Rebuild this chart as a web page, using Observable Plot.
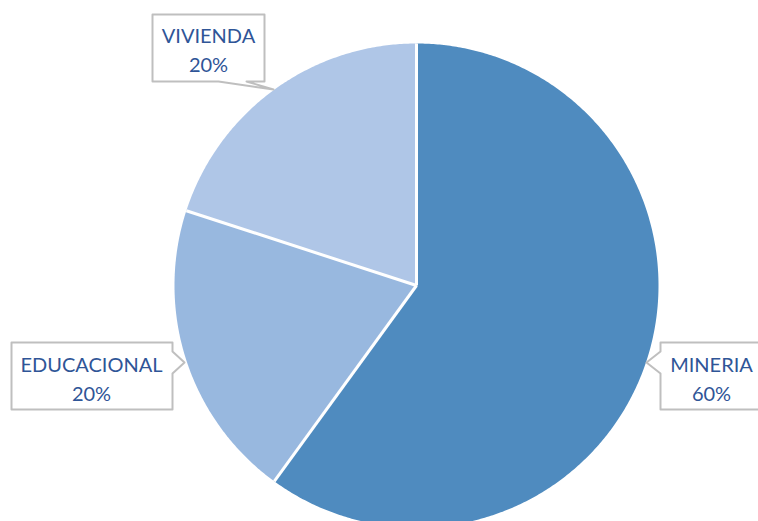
<!DOCTYPE html>
<html>
<head>
<meta charset="utf-8">
<script src="https://cdn.jsdelivr.net/npm/d3@7"></script>
<script src="https://cdn.jsdelivr.net/npm/@observablehq/plot@0.6"></script>
<style>
  html, body { margin: 0; padding: 0; background: #ffffff; }
  #chart svg { display: block; }
</style>
</head>
<body>
<div id="chart"></div>
<script>
// ---- data ----
const categories = ["MINERIA", "EDUCACIONAL", "VIVIENDA"];
const shares = [60, 20, 20];
const percentLabels = ["60%", "20%", "20%"];
const colors = ["#4f8bbf", "#98b8df", "#afc6e7"];

// ---- layout (pixels) ----
const W = 758, H = 521;
const cx = 416, cy = 285, R = 242;
const callouts = {
  "VIVIENDA":    {left: 152, top: 14,  right: 264, bottom: 81,  edge: "bottom", p: [[218, 81], [273, 89], [246, 81]], tx: 208, ty: 48},
  "EDUCACIONAL": {left: 11,  top: 342, right: 172, bottom: 409, edge: "right",  p: [[172, 351], [184, 362], [172, 373]], tx: 91, ty: 377},
  "MINERIA":     {left: 660, top: 342, right: 762, bottom: 409, edge: "left",   p: [[660, 373], [646, 362], [660, 351]], tx: 711, ty: 377}
};

const table = categories.map((c, i) => ({name: c, value: shares[i], label: percentLabels[i], color: colors[i]}));
const arcs = d3.pie().sort(null).value(d => d.value)(table);

// slice polygons
const slicePts = [];
arcs.forEach(a => {
  const n = Math.max(2, Math.ceil((a.endAngle - a.startAngle) / (Math.PI / 360)));
  slicePts.push({name: a.data.name, x: cx, y: cy});
  for (let k = 0; k <= n; k++) {
    const t = a.startAngle + (a.endAngle - a.startAngle) * k / n;
    slicePts.push({name: a.data.name, x: cx + R * Math.sin(t), y: cy - R * Math.cos(t)});
  }
  slicePts.push({name: a.data.name, x: cx, y: cy});
});

// separators
const seps = arcs.map(a => ({x1: cx, y1: cy, x2: cx + R * Math.sin(a.startAngle), y2: cy - R * Math.cos(a.startAngle)}));

// callout polygons
const boxPts = [];
table.forEach(d => {
  const c = callouts[d.name];
  const L = c.left, T = c.top, Rt = c.right, B = c.bottom;
  let pts;
  if (c.edge === "bottom") pts = [[L, T], [Rt, T], [Rt, B], ...c.p.slice().reverse(), [L, B], [L, T]];
  else if (c.edge === "right") pts = [[L, T], [Rt, T], ...c.p, [Rt, B], [L, B], [L, T]];
  else pts = [[L, T], [Rt, T], [Rt, B], [L, B], ...c.p, [L, T]];
  pts.forEach(([x, y]) => boxPts.push({name: d.name, x, y}));
});

const labels = table.map(d => ({text: d.name + "\n" + d.label, x: callouts[d.name].tx, y: callouts[d.name].ty}));

const plot = Plot.plot({
  width: W, height: H,
  margin: 0,
  x: {domain: [0, W], range: [0, W], axis: null},
  y: {domain: [0, H], range: [0, H], axis: null},
  color: {domain: categories, range: colors},
  style: {background: "#ffffff"},
  marks: [
    Plot.line(slicePts, {x: "x", y: "y", z: "name", fill: "name", stroke: null, curve: "linear"}),
    Plot.link(seps, {x1: "x1", y1: "y1", x2: "x2", y2: "y2", stroke: "#ffffff", strokeWidth: 3}),
    Plot.line(boxPts, {x: "x", y: "y", z: "name", fill: "#ffffff", stroke: "#bfbfbf", strokeWidth: 2, curve: "linear"}),
    Plot.text(labels, {x: "x", y: "y", text: "text", fill: "#2f5597", fontSize: 20, lineHeight: 1.43, fontFamily: "Lato", textAnchor: "middle", lineAnchor: "middle"})
  ]
});
document.getElementById("chart").appendChild(plot);
</script>
</body>
</html>
